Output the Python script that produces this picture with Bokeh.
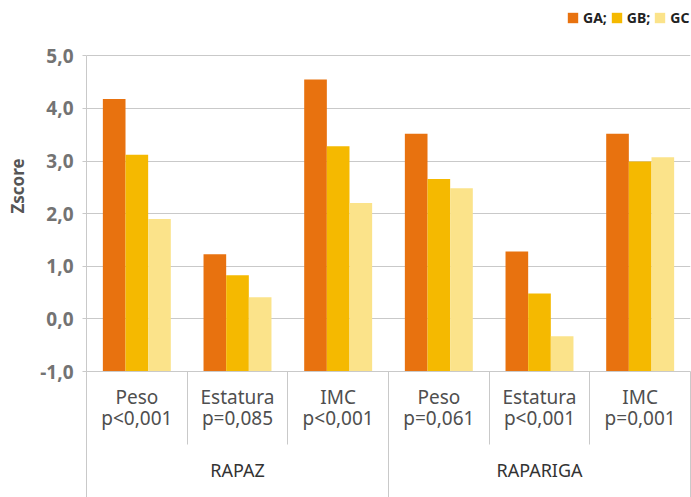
from bokeh.plotting import figure
from bokeh.models import (FactorRange, Range1d, LinearAxis, FixedTicker, Legend,
                          LegendItem, ColumnDataSource)
from bokeh.transform import dodge
from bokeh.embed import file_html
from bokeh.resources import INLINE

# ---------------- data ----------------
groups = ["RAPAZ", "RAPARIGA"]
measures = ["Peso", "Estatura", "IMC", "Peso", "Estatura", "IMC"]
p_values = ["p<0,001", "p=0,085", "p<0,001", "p=0,061", "p<0,001", "p=0,001"]
series = ["GA", "GB", "GC"]
legend_labels = ["GA;", "GB;", "GC"]
ga = [4.18, 1.23, 4.55, 3.52, 1.28, 3.52]
gb = [3.12, 0.83, 3.28, 2.66, 0.48, 2.99]
gc = [1.90, 0.41, 2.20, 2.48, -0.33, 3.07]
y_ticks = [-1, 0, 1, 2, 3, 4, 5]
y_tick_labels = ["-1,0", "0,0", "1,0", "2,0", "3,0", "4,0", "5,0"]

colors = ["#E8720F", "#F5B900", "#FBE38A"]
FONT = "Noto Sans"
GRID = "#c9c9c9"
Y_TOP = 6.05  # frame reaches the top edge so the legend can sit above the 5,0 line

factors = [f"{m}\n{pv}" for m, pv in zip(measures, p_values)]
n = len(factors)
per_group = n // len(groups)

p = figure(width=691, height=497,
           x_range=FactorRange(*factors, range_padding=0, factor_padding=0),
           y_range=Range1d(y_ticks[0], Y_TOP),
           x_axis_location=None,
           output_backend="svg", toolbar_location=None,
           min_border_left=86, min_border_right=1,
           min_border_top=0, min_border_bottom=126)
p.outline_line_color = None
p.background_fill_color = "white"
p.border_fill_color = "white"

src = ColumnDataSource(dict(x=factors, GA=ga, GB=gb, GC=gc))
bw = 0.225
renderers = []
for i, (s, c) in enumerate(zip(series, colors)):
    r = p.vbar(x=dodge("x", (i - 1) * bw, range=p.x_range), top=s, bottom=y_ticks[0],
               width=bw, source=src, fill_color=c, line_color=None)
    renderers.append(r)

# grid
p.xgrid.visible = False
p.ygrid.ticker = FixedTicker(ticks=y_ticks)
p.ygrid.grid_line_color = GRID

# y axis
ya = p.yaxis[0]
ya.bounds = (y_ticks[0], y_ticks[-1])
ya.ticker = FixedTicker(ticks=y_ticks)
ya.major_label_overrides = {t: l for t, l in zip(y_ticks, y_tick_labels)}
ya.axis_label = "Zscore"
ya.axis_label_text_font = FONT
ya.axis_label_text_font_size = "17px"
ya.axis_label_text_font_style = "bold"
ya.axis_label_text_color = "#555555"
ya.axis_label_standoff = 8
ya.major_label_text_font = FONT
ya.major_label_text_font_size = "19px"
ya.major_label_text_font_style = "bold"
ya.major_label_text_color = "#737373"
ya.major_label_standoff = 9
ya.major_tick_out = 4
ya.major_tick_in = 0
ya.minor_tick_line_color = None
ya.axis_line_color = GRID
ya.major_tick_line_color = GRID

# x axis 1: measure labels + short separators (synthetic categorical coordinates)
centers = [i + 0.5 for i in range(n)]
bounds = list(range(n + 1))
ax1 = LinearAxis(ticker=FixedTicker(ticks=centers, minor_ticks=bounds),
                 major_label_overrides={c: f for c, f in zip(centers, factors)})
ax1.major_tick_out = 0
ax1.major_tick_in = 0
ax1.minor_tick_out = 73
ax1.minor_tick_in = 0
ax1.minor_tick_line_color = GRID
ax1.axis_line_color = GRID
ax1.major_label_text_font = FONT
ax1.major_label_text_font_size = "19px"
ax1.major_label_text_color = "#4f4f4f"
ax1.major_label_text_line_height = 0.82
ax1.major_label_standoff = -61
p.add_layout(ax1, "below")

# x axis 2: group labels + long dividers
g_centers = [per_group * (k + 0.5) for k in range(len(groups))]
g_bounds = [per_group * k for k in range(len(groups) + 1)]
ax2 = LinearAxis(ticker=FixedTicker(ticks=g_centers, minor_ticks=g_bounds),
                 major_label_overrides={c: g for c, g in zip(g_centers, groups)})
ax2.major_tick_out = 0
ax2.major_tick_in = 0
ax2.minor_tick_out = 80
ax2.minor_tick_in = 0
ax2.minor_tick_line_color = GRID
ax2.axis_line_color = None
ax2.major_label_text_font = FONT
ax2.major_label_text_font_size = "18px"
ax2.major_label_text_color = "#333333"
ax2.major_label_standoff = -56
p.add_layout(ax2, "below")

# legend, top right above the 5,0 line
legend = Legend(items=[LegendItem(label=l, renderers=[r]) for l, r in zip(legend_labels, renderers)],
                orientation="horizontal", location=(480, 344))
legend.glyph_width = 13
legend.glyph_height = 13
legend.label_standoff = 4
legend.spacing = 3
legend.padding = 0
legend.margin = 0
legend.border_line_color = None
legend.background_fill_alpha = 0
legend.label_text_font = FONT
legend.label_text_font_size = "14px"
legend.label_text_font_style = "bold"
legend.label_text_color = "#222222"
legend.label_height = 13
p.add_layout(legend, "center")

open("out.html", "w").write(file_html(p, INLINE))
